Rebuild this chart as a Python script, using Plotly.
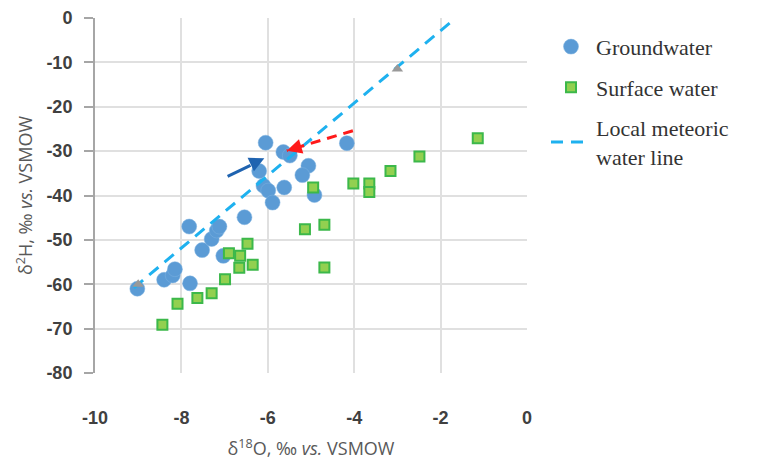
import plotly.graph_objects as go

# Groundwater (blue circles)
gw_o18 = [-9.02, -8.40, -8.20, -8.15, -7.80, -7.82, -7.52, -7.30, -7.18, -7.12, -7.03,
          -6.54, -6.05, -5.64, -5.49, -6.20, -6.10, -5.99, -5.89, -5.62, -5.06, -5.20,
          -4.92, -4.17]
gw_h2 = [-61.0, -59.0, -58.0, -56.6, -59.8, -47.0, -52.3, -49.8, -47.9, -47.0, -53.6,
         -44.9, -28.1, -30.2, -31.0, -34.5, -37.8, -38.9, -41.6, -38.2, -33.3, -35.4,
         -39.9, -28.2]

# Surface water (green squares)
sw_o18 = [-8.44, -8.09, -7.63, -7.30, -6.99, -6.90, -6.66, -6.64, -6.47, -6.35,
          -4.95, -5.14, -4.69, -4.69, -4.02, -3.65, -3.65, -3.16, -2.49, -1.14]
sw_h2 = [-69.1, -64.4, -63.1, -62.0, -58.9, -53.0, -56.3, -53.6, -50.9, -55.6,
         -38.2, -47.6, -46.6, -56.2, -37.3, -37.3, -39.2, -34.5, -31.2, -27.1]

# Local meteoric water line endpoints
lmwl_o18 = [-9.1, -1.65]
lmwl_h2 = [-60.8, 0.0]

# LMWL reference points (gray triangles)
tri_o18 = [-9.0, -3.0]
tri_h2 = [-60.0, -11.5]

# Arrows (start -> end)
red_arrow = [(-4.03, -25.4), (-5.56, -29.9)]
blue_arrow = [(-6.93, -35.7), (-6.08, -31.6)]

x_ticks = [-10, -8, -6, -4, -2, 0]
y_ticks = [0, -10, -20, -30, -40, -50, -60, -70, -80]

fig = go.Figure()

fig.add_trace(go.Scatter(
    x=gw_o18, y=gw_h2, mode="markers", name="Groundwater",
    legendgroup="a",
    marker=dict(symbol="circle", size=15, color="#5b9bd5",
                line=dict(width=0.5, color="#7fb2e0")),
))
fig.add_trace(go.Scatter(
    x=sw_o18, y=sw_h2, mode="markers", name="Surface water",
    legendgroup="b",
    marker=dict(symbol="square", size=10, color="#92d050",
                line=dict(width=2, color="#3cb84a")),
))
fig.add_trace(go.Scatter(
    x=lmwl_o18, y=lmwl_h2, mode="lines", name="Local meteoric<br>water line",
    legendgroup="c",
    line=dict(color="#1eb1ef", width=3, dash="12px,8px"),
))
fig.add_trace(go.Scatter(
    x=tri_o18, y=tri_h2, mode="markers", showlegend=False,
    marker=dict(symbol="triangle-up", size=10, color="#999999"),
))
# red dashed arrow
fig.add_trace(go.Scatter(
    x=[red_arrow[0][0], red_arrow[1][0]], y=[red_arrow[0][1], red_arrow[1][1]],
    mode="lines", showlegend=False,
    line=dict(color="#ff1a1a", width=3, dash="10px,7px"),
))
fig.add_annotation(x=red_arrow[1][0], y=red_arrow[1][1],
                   ax=red_arrow[1][0] + 0.35, ay=red_arrow[1][1] + 1.03,
                   xref="x", yref="y", axref="x", ayref="y",
                   showarrow=True, arrowhead=2, arrowsize=1.2, arrowwidth=2.5,
                   arrowcolor="#ff1a1a", text="")
# blue arrow
fig.add_trace(go.Scatter(
    x=[blue_arrow[0][0], -6.40], y=[blue_arrow[0][1], -33.2],
    mode="lines", showlegend=False,
    line=dict(color="#1f63b0", width=3),
))
fig.add_annotation(x=blue_arrow[1][0], y=blue_arrow[1][1],
                   ax=-6.30, ay=-32.6,
                   xref="x", yref="y", axref="x", ayref="y",
                   showarrow=True, arrowhead=2, arrowsize=1.2, arrowwidth=2.5,
                   arrowcolor="#1f63b0", text="")

fig.update_layout(
    width=772, height=466,
    margin=dict(l=87, r=253, t=10, b=101, autoexpand=False),
    plot_bgcolor="white", paper_bgcolor="white",
    legend=dict(
        x=1.044, y=0.978, xanchor="left", yanchor="top",
        font=dict(family="Liberation Serif", size=22, color="#333333"),
        tracegroupgap=9, traceorder="grouped",
        itemwidth=40, bgcolor="rgba(0,0,0,0)",
    ),
    xaxis=dict(
        range=[-10, 0], tickvals=x_ticks, ticktext=[str(v) for v in x_ticks],
        showgrid=True, gridcolor="#e0e0e0", gridwidth=1.5,
        zeroline=False, showline=False, ticks="", automargin=False,
        ticklabelstandoff=32, ticklabeloverflow="allow",
        tickfont=dict(family="Liberation Sans", size=18, color="#404040", weight="bold"),
        title=dict(text="δ<sup>18</sup>O, ‰ <i>vs.</i> VSMOW", standoff=15,
                   font=dict(family="Open Sans", size=18, color="#595959")),
    ),
    yaxis=dict(
        range=[-80, 0], tickvals=y_ticks, ticktext=[str(v) for v in y_ticks],
        showgrid=True, gridcolor="#e0e0e0", gridwidth=1.5,
        zeroline=False, showline=True, linecolor="#a6a6a6", linewidth=2,
        ticks="outside", ticklen=9, tickcolor="#a6a6a6", tickwidth=1.5,
        ticklabelstandoff=8, automargin=False, ticklabeloverflow="allow",
        tickfont=dict(family="Liberation Sans", size=18, color="#404040", weight="bold"),
        title=dict(text="δ<sup>2</sup>H, ‰ <i>vs.</i> VSMOW", standoff=9,
                   font=dict(family="Open Sans", size=18, color="#595959")),
    ),
)

fig.write_html("out.html")
